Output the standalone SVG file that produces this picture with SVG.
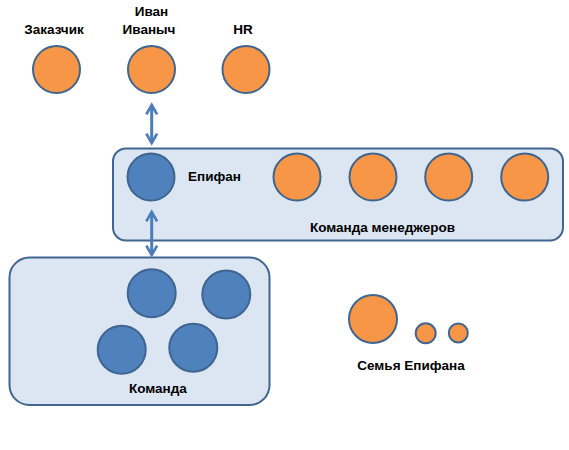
<svg xmlns="http://www.w3.org/2000/svg" width="569" height="450" viewBox="0 0 569 450">
<defs>
<style>
.t{font-family:"Liberation Sans",Arial,sans-serif;font-weight:bold;font-size:13.5px;fill:#000;}
.o{fill:#f79646;stroke:#3f6590;stroke-width:2;}
.b{fill:#4f81bd;stroke:#3f6590;stroke-width:2;}
.box{fill:#dce6f2;stroke:#3f6590;stroke-width:2;}
.c{stroke:#4a7ebb;stroke-width:3;fill:none;}
</style>
<marker id="ah" viewBox="0 0 10 10" refX="8" refY="5" markerWidth="4.5" markerHeight="4.5" orient="auto-start-reverse" markerUnits="strokeWidth">
<polyline points="1,1 8,5 1,9" fill="none" stroke="#4a7ebb" stroke-width="2"/>
</marker>
</defs>
<rect width="569" height="450" fill="#fff"/>
<g id="team-managers">
<rect class="box" x="113" y="148.5" width="450" height="92" rx="13"/>
<text class="t" x="310" y="232">Команда менеджеров</text>
</g>
<g id="team">
<rect class="box" x="9.5" y="257.5" width="260" height="147.5" rx="20"/>
<text class="t" x="129" y="393">Команда</text>
</g>
<g id="zakazchik">
<circle class="o" cx="56.5" cy="69.5" r="23.5"/>
<text class="t" x="54" y="34" text-anchor="middle">Заказчик</text>
</g>
<g id="ivan">
<circle class="o" cx="151.5" cy="69.5" r="23.5"/>
<text class="t" x="151.5" y="16" text-anchor="middle">Иван</text>
<text class="t" x="149" y="34" text-anchor="middle">Иваныч</text>
</g>
<g id="hr">
<circle class="o" cx="246" cy="69.5" r="23.5"/>
<text class="t" x="243" y="34" text-anchor="middle">HR</text>
</g>
<g id="epifan">
<circle class="b" cx="151" cy="177" r="23.5"/>
<text class="t" x="188" y="181">Епифан</text>
</g>
<g id="manager1"><circle class="o" cx="297" cy="177" r="23.5"/></g>
<g id="manager2"><circle class="o" cx="373" cy="177" r="23.5"/></g>
<g id="manager3"><circle class="o" cx="448.7" cy="177" r="23.5"/></g>
<g id="manager4"><circle class="o" cx="524.7" cy="177" r="23.5"/></g>
<g id="member1"><circle class="b" cx="151.7" cy="293.3" r="24"/></g>
<g id="member2"><circle class="b" cx="226.3" cy="294.5" r="24"/></g>
<g id="member3"><circle class="b" cx="121.7" cy="349.7" r="24"/></g>
<g id="member4"><circle class="b" cx="193.3" cy="347.8" r="24"/></g>
<g id="family">
<circle class="o" cx="373" cy="319" r="24"/>
<circle class="o" cx="425.7" cy="333.3" r="10"/>
<circle class="o" cx="458.3" cy="333" r="9.5"/>
<text class="t" x="411" y="370" text-anchor="middle">Семья Епифана</text>
</g>
<g id="connectors">
<line class="c" x1="151.7" y1="105" x2="151.7" y2="143" marker-start="url(#ah)" marker-end="url(#ah)"/>
<line class="c" x1="151.7" y1="212" x2="151.7" y2="255" marker-start="url(#ah)" marker-end="url(#ah)"/>
</g>
</svg>
